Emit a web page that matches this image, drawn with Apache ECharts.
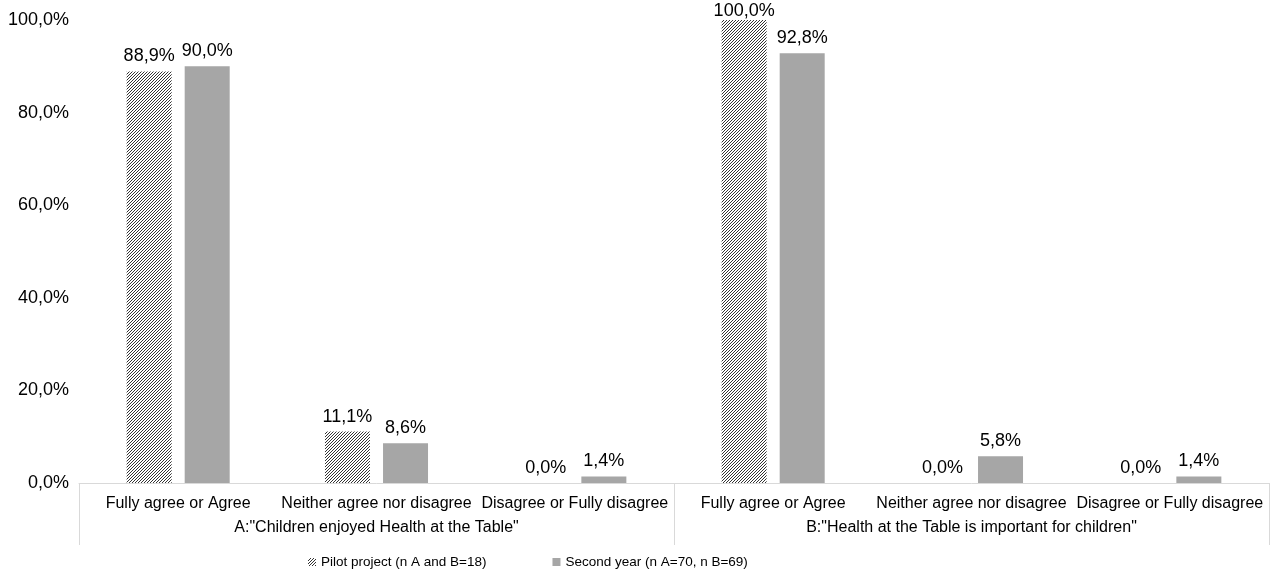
<!DOCTYPE html>
<html>
<head>
<meta charset="utf-8">
<script src="https://cdn.jsdelivr.net/npm/echarts@6/dist/echarts.min.js"></script>
<style>
html,body{margin:0;padding:0;background:#fff;}
#chart{width:1287px;height:576px;}
</style>
</head>
<body>
<div id="chart"></div>
<script>
const categories = ['Fully agree or Agree','Neither agree nor disagree','Disagree or Fully disagree','Fully agree or Agree','Neither agree nor disagree','Disagree or Fully disagree'];
const groups = ['A:"Children enjoyed Health at the Table"','B:"Health at the Table is important for children"'];
const pilotName = 'Pilot project (n A and B=18)';
const secondName = 'Second year (n A=70, n B=69)';
const pilotValues = [88.9, 11.1, 0.0, 100.0, 0.0, 0.0];
const secondValues = [90.0, 8.6, 1.4, 92.8, 5.8, 1.4];
const yTicks = [0, 20, 40, 60, 80, 100];

function makePattern(){
  const s = 3;
  const c = document.createElement('canvas');
  c.width = s; c.height = s;
  const ctx = c.getContext('2d');
  ctx.fillStyle = '#ffffff';
  ctx.fillRect(0,0,s,s);
  ctx.strokeStyle = '#333333';
  ctx.lineWidth = 1;
  ctx.beginPath();
  ctx.moveTo(-1,s+1); ctx.lineTo(s+1,-1);
  ctx.moveTo(-1,1); ctx.lineTo(1,-1);
  ctx.moveTo(s-1,s+1); ctx.lineTo(s+1,s-1);
  ctx.stroke();
  return c;
}
const pattern = {image: makePattern(), repeat: 'repeat'};
const fmt = v => v.toFixed(1).replace('.', ',') + '%';
const FONT = 'Liberation Sans, Arial, sans-serif';

const chart = echarts.init(document.getElementById('chart'), null, {renderer:'canvas'});
chart.setOption({
  animation: false,
  backgroundColor: '#ffffff',
  textStyle: {fontFamily: FONT, color: '#000'},
  grid: {left: 79, right: 18, top: 20, bottom: 93, containLabel: false},
  legend: {
    bottom: 2, left: 303,
    itemWidth: 8, itemHeight: 8, itemGap: 66, itemTextGap: 8,
    icon: 'rect',
    textStyle: {fontFamily: FONT, fontSize: 13.5, color: '#000'},
    data: [pilotName, secondName]
  },
  xAxis: [
    {
      type: 'category', data: categories, position: 'bottom',
      axisLine: {show: true, lineStyle: {color: '#d9d9d9', width: 1}},
      axisTick: {show: false},
      axisLabel: {interval: 0, margin: 13, fontSize: 16, color: '#000', fontFamily: FONT}
    },
    {
      type: 'category', data: groups, position: 'bottom',
      axisLine: {show: false},
      axisTick: {show: true, length: 62, interval: 0, lineStyle: {color: '#d9d9d9', width: 1}},
      axisLabel: {interval: 0, margin: 37, fontSize: 16, color: '#000', fontFamily: FONT}
    }
  ],
  yAxis: {
    type: 'value', min: yTicks[0], max: yTicks[yTicks.length-1], interval: yTicks[1]-yTicks[0],
    axisLine: {show: false}, axisTick: {show: false}, splitLine: {show: false},
    axisLabel: {formatter: fmt, fontSize: 18, color: '#000', margin: 10, fontFamily: FONT}
  },
  labelLayout: function (p) {
    if (p.labelRect && p.labelRect.y < 2) {
      return {dy: 2 - p.labelRect.y};
    }
    return {};
  },
  series: [
    {
      name: pilotName, type: 'bar', data: pilotValues, barWidth: 45, barGap: '29%',
      itemStyle: {color: pattern},
      label: {show: true, position: 'top', distance: 6, formatter: p => fmt(p.value), fontSize: 18, color: '#000', fontFamily: FONT},
      labelLayout: function (p) {
        if (p.labelRect && p.labelRect.y < 2) {
          return {dy: 2 - p.labelRect.y};
        }
        return {};
      }
    },
    {
      name: secondName, type: 'bar', data: secondValues, barWidth: 45,
      itemStyle: {color: '#a6a6a6'},
      label: {show: true, position: 'top', distance: 6, formatter: p => fmt(p.value), fontSize: 18, color: '#000', fontFamily: FONT}
    }
  ]
});
</script>
</body>
</html>
